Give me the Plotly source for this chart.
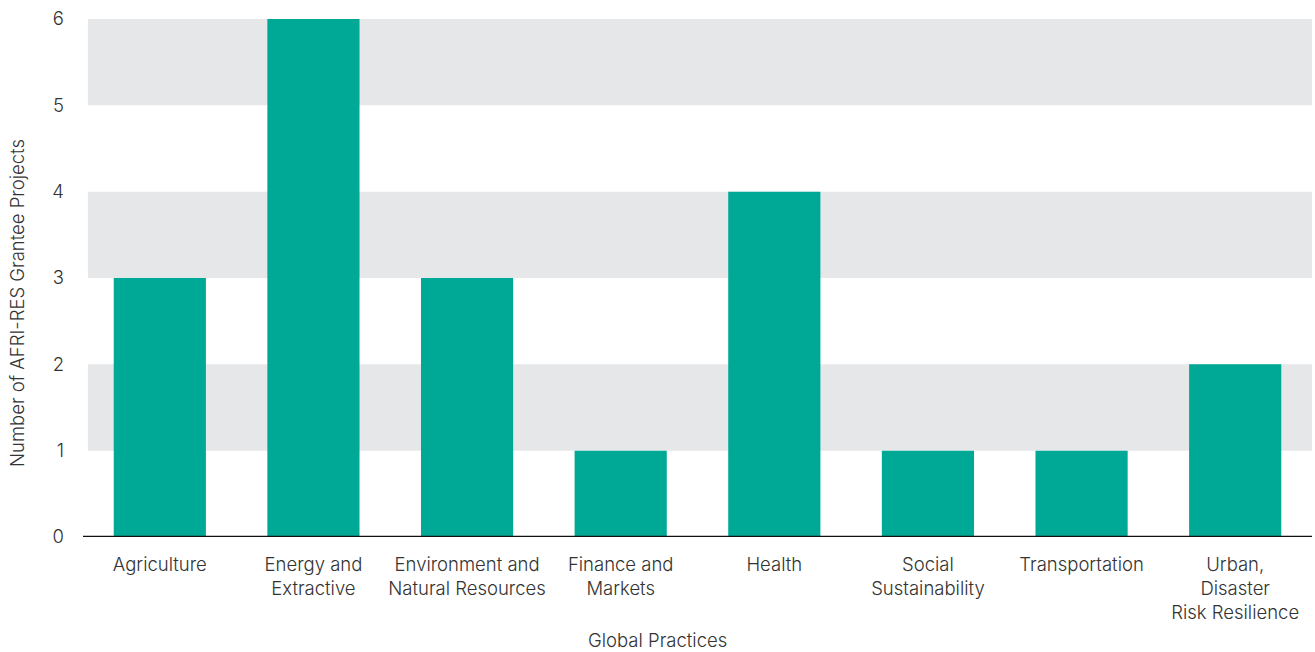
import plotly.graph_objects as go

# Projects per Global Practice
practices = [
    "Agriculture",
    "Energy and<br>Extractive",
    "Environment and<br>Natural Resources",
    "Finance and<br>Markets",
    "Health",
    "Social<br>Sustainability",
    "Transportation",
    "Urban,<br>Disaster<br>Risk Resilience",
]
projects = [3, 6, 3, 1, 4, 1, 1, 2]
y_ticks = [0, 1, 2, 3, 4, 5, 6]

BAR = "#00A896"
BAND = "#E6E7E9"
TEXT = "#333333"
FONT = "Inter"
FS = 18.5
WT = 300

fig = go.Figure(
    go.Bar(
        x=practices,
        y=projects,
        marker=dict(color=BAR, line=dict(width=0)),
        width=0.6,
        hoverinfo="x+y",
    )
)

# Alternating horizontal bands behind the bars
shapes = []
for lo in (1, 3, 5):
    shapes.append(dict(
        type="rect", xref="paper", yref="y", x0=0.004, x1=1,
        y0=lo, y1=lo + 1, fillcolor=BAND, line=dict(width=0), layer="below",
    ))
# Baseline
shapes.append(dict(
    type="line", xref="paper", yref="y", x0=0, x1=1, y0=0, y1=0,
    line=dict(color="#111111", width=2.5), layer="above",
))

title_font = dict(family=FONT, size=FS, color=TEXT, weight=WT)
annotations = [
    # x-axis title, centred on the page
    dict(text="Global Practices", xref="paper", yref="paper",
         x=(657 - 83) / 1229, y=-(640 - 537) / 518,
         xanchor="center", yanchor="middle", showarrow=False, font=title_font),
    # y-axis title
    dict(text="Number of AFRI-RES Grantee Projects", xref="paper", yref="paper",
         x=-(83 - 17) / 1229, y=(537 - 303) / 518, textangle=-90,
         xanchor="center", yanchor="middle", showarrow=False, font=title_font),
]

fig.update_layout(
    width=1315,
    height=652,
    margin=dict(l=83, r=3, t=19, b=115),
    plot_bgcolor="white",
    paper_bgcolor="white",
    font=dict(family=FONT, color=TEXT, size=FS, weight=WT),
    shapes=shapes,
    annotations=annotations,
    showlegend=False,
    bargap=0.4,
)
fig.update_xaxes(
    showgrid=False,
    zeroline=False,
    showline=False,
    ticks="",
    tickfont=dict(family=FONT, size=FS, color=TEXT, weight=WT),
    ticklabelstandoff=14,
)
fig.update_yaxes(
    range=[0, 6],
    tickvals=y_ticks,
    showgrid=False,
    zeroline=False,
    showline=False,
    ticks="",
    tickfont=dict(family=FONT, size=FS, color=TEXT, weight=WT),
    ticklabelstandoff=18,
)

fig.write_html("out.html")
